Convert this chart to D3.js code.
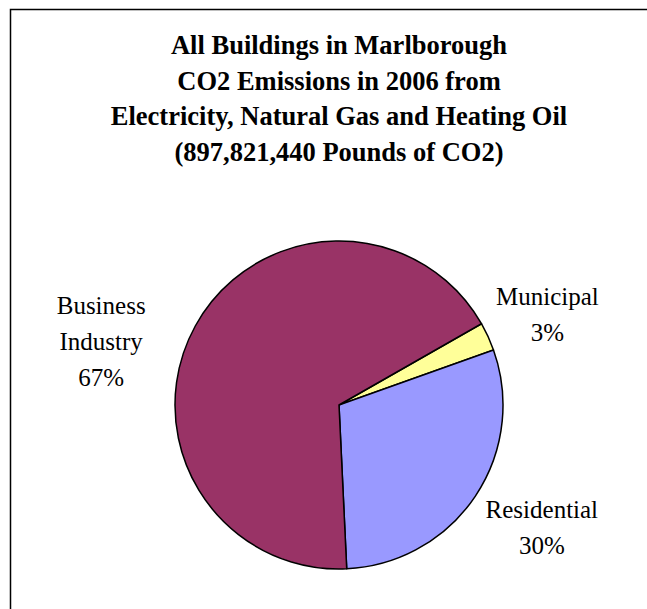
<!DOCTYPE html>
<html>
<head>
<meta charset="utf-8">
<script src="https://cdn.jsdelivr.net/npm/d3@7"></script>
<style>
  body { margin: 0; background: #fff; }
</style>
</head>
<body>
<svg id="mainFrame"></svg>
<script>
const width = 647
const height = 609

const categories = ['Municipal', 'Residential', 'Business Industry']
const shares = [2.8, 29.7, 67.5]
const labelLines = [['Municipal', '3%'], ['Residential', '30%'], ['Business', 'Industry', '67%']]
const titleLines = [
    'All Buildings in Marlborough',
    'CO2 Emissions in 2006 from',
    'Electricity, Natural Gas and Heating Oil',
    '(897,821,440 Pounds of CO2)'
]
const sliceColors = ['#FFFF99', '#9999FF', '#993366']

const svg = d3.select('#mainFrame')
    .attr('width', width)
    .attr('height', height)
    .style('display', 'block')

// frame (only top and left edges sit inside the picture)
svg.append('path')
    .attr('d', `M10.5,${height + 5} L10.5,9.5 L${width + 5},9.5`)
    .attr('fill', 'none')
    .attr('stroke', '#000')
    .attr('stroke-width', 1.5)

// title
svg.append('g')
    .selectAll('text')
    .data(titleLines)
    .join('text')
    .attr('x', 339)
    .attr('y', (d, i) => 54 + i * 35.5)
    .attr('text-anchor', 'middle')
    .attr('font-family', 'Liberation Serif')
    .attr('font-weight', 'bold')
    .attr('font-size', 26.5)
    .text(d => d)

// pie
const cx = 339, cy = 405, radius = 164
const startRad = 60.3 * Math.PI / 180

const pie = d3.pie()
    .sort(null)
    .value(d => d)
    .startAngle(startRad)
    .endAngle(startRad + 2 * Math.PI)

const arc = d3.arc()
    .innerRadius(0)
    .outerRadius(radius)

const color = d3.scaleOrdinal()
    .domain(categories)
    .range(sliceColors)

const pieGroup = svg.append('g')
    .attr('transform', `translate(${cx},${cy})`)

pieGroup.selectAll('path')
    .data(pie(shares))
    .join('path')
    .attr('d', arc)
    .attr('fill', (d, i) => color(categories[i]))
    .attr('stroke', '#000')
    .attr('stroke-width', 1.5)
    .attr('stroke-linejoin', 'round')

// labels outside the pie: distance from centre and a small turn (degrees) off the slice's mid angle
const labelPlace = [
    { r: 227, turn: 1.3 },
    { r: 237, turn: -2.7 },
    { r: 246, turn: -14 }
]
const lineH = 36
const labelGroup = svg.append('g')
pie(shares).forEach((d, i) => {
    const p = labelPlace[i]
    const ang = (d.startAngle + d.endAngle) / 2 + p.turn * Math.PI / 180
    const lx = cx + Math.sin(ang) * p.r
    const ly = cy - Math.cos(ang) * p.r
    const lines = labelLines[i]
    const top = ly - (lines.length - 1) * lineH / 2
    labelGroup.append('text')
        .attr('text-anchor', 'middle')
        .attr('font-family', 'Liberation Serif')
        .attr('font-size', 25)
        .selectAll('tspan')
        .data(lines)
        .join('tspan')
        .attr('x', lx)
        .attr('y', (t, j) => top + j * lineH + 8)
        .text(t => t)
})
</script>
</body>
</html>
